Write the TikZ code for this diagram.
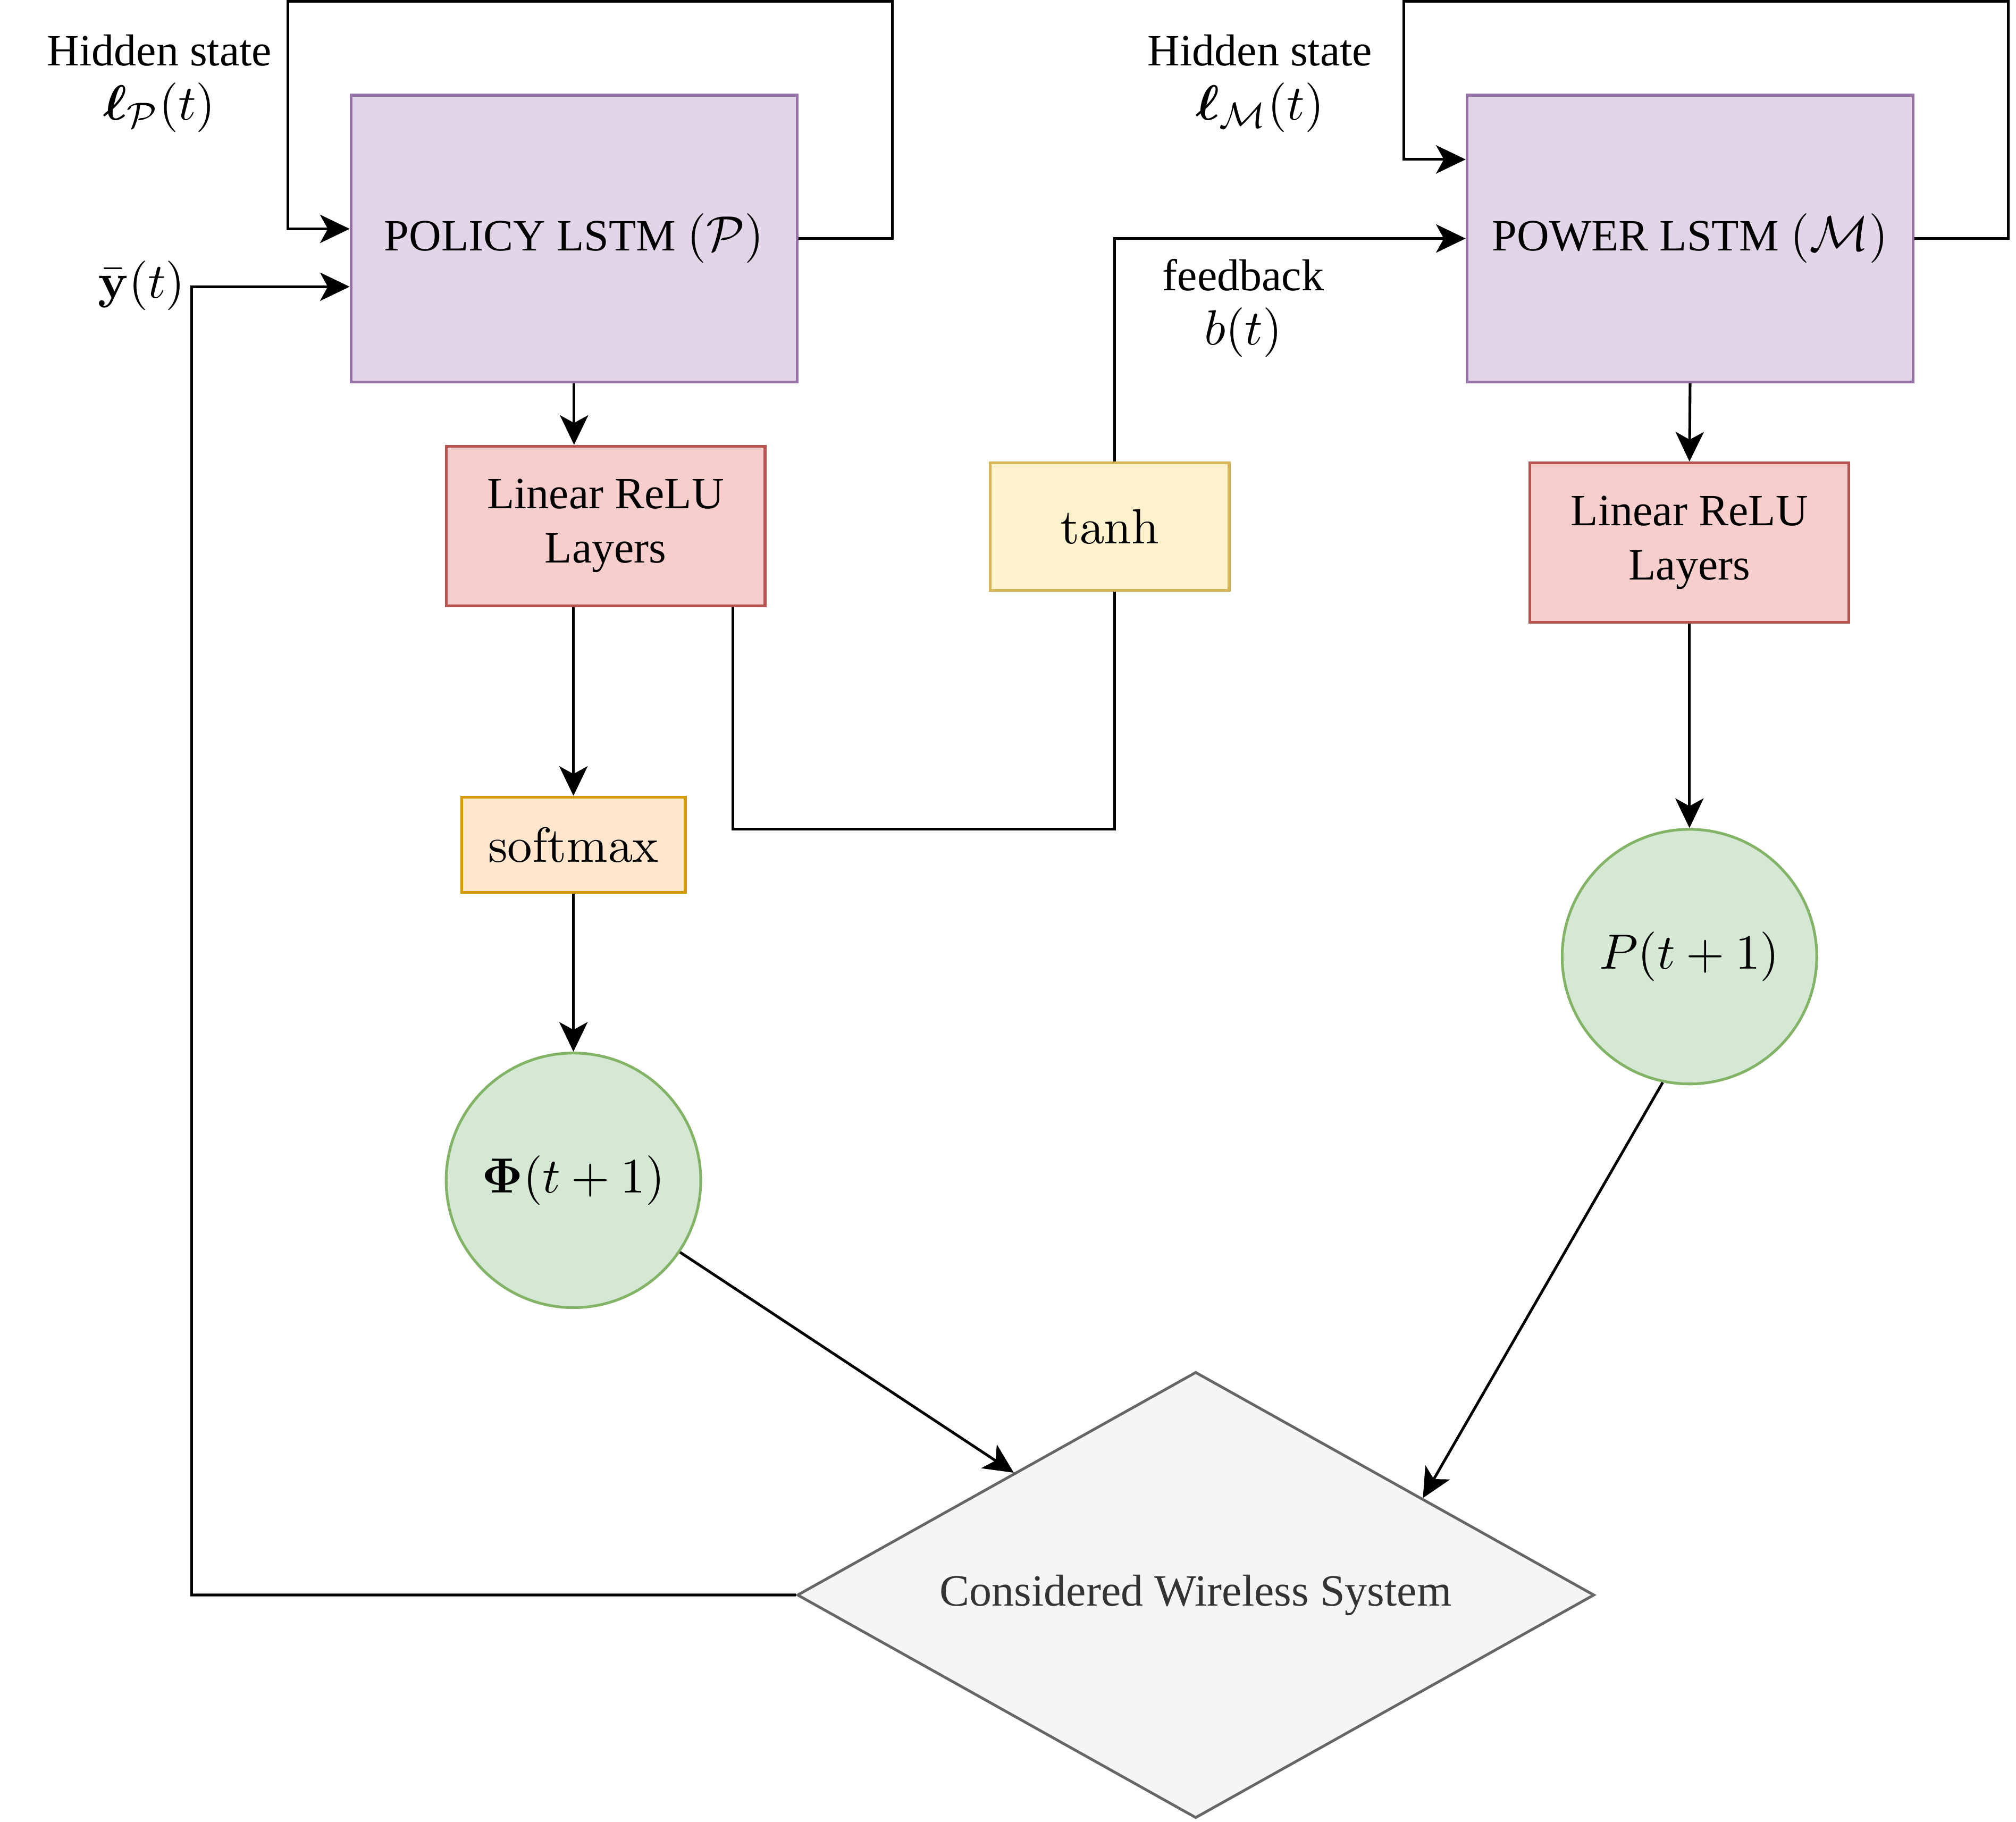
\documentclass[tikz,border=0pt]{standalone}
\usepackage{amsmath, amssymb, bm}
\usepackage[no-math]{fontspec}
\setmainfont{Liberation Serif}[Scale=0.875]
\usetikzlibrary{shapes.geometric, arrows.meta, positioning, calc}
\definecolor{lstmfill}{HTML}{E1D5E7}
\definecolor{lstmline}{HTML}{9673A6}
\definecolor{relufill}{HTML}{F8CECC}
\definecolor{reluline}{HTML}{B85450}
\definecolor{tanhfill}{HTML}{FFF2CC}
\definecolor{tanhline}{HTML}{D6B656}
\definecolor{softfill}{HTML}{FFE6CC}
\definecolor{softline}{HTML}{D79B00}
\definecolor{outfill}{HTML}{D5E8D4}
\definecolor{outline}{HTML}{82B366}
\definecolor{sysfill}{HTML}{F5F5F5}
\definecolor{sysline}{HTML}{666666}
\definecolor{systext}{HTML}{333333}

\begin{document}
\begin{tikzpicture}[
  line width=0.6pt,
  every node/.style={font=\fontsize{11.3}{12}\selectfont},
  arr/.style={-{Stealth[length=2.3mm, width=2.2mm, inset=0.6mm]}},
  lstmbox/.style={draw=lstmline, fill=lstmfill, minimum width=3.47cm, minimum height=2.23cm},
  relubox/.style={draw=reluline, fill=relufill, minimum width=2.48cm, minimum height=1.24cm, align=center},
  outcirc/.style={circle, draw=outline, fill=outfill, minimum size=1.98cm, inner sep=0pt}
]
  \useasboundingbox (0,0) rectangle (15.68,-14.17);

  % LSTM blocks
  \node[lstmbox] (policy) at (4.465,-1.855) {POLICY LSTM $(\mathcal{P})$};
  \node[lstmbox] (power) at (13.145,-1.855) {POWER LSTM $(\mathcal{M})$};

  % Layers
  \node[relubox] (reluL) at (4.71,-4.09) {Linear ReLU\\Layers};
  \node[relubox] (reluR) at (13.14,-4.22) {Linear ReLU\\Layers};
  \node[draw=tanhline, fill=tanhfill, minimum width=1.86cm, minimum height=0.99cm] (tanh) at (8.63,-4.095) {$\tanh$};
  \node[draw=softline, fill=softfill, minimum width=1.74cm, minimum height=0.74cm] (softmax) at (4.46,-6.57) {$\mathrm{softmax}$};

  % Outputs
  \node[outcirc] (phi) at (4.46,-9.18) {$\mathbf{\Phi}(t+1)$};
  \node[outcirc] (pnext) at (13.14,-7.44) {$P(t+1)$};
  \node[diamond, aspect=1.79, draw=sysline, fill=sysfill, text=systext, minimum width=6.2cm, minimum height=3.47cm, inner sep=0pt] (system) at (9.30,-12.405) {Considered Wireless System};

  % Labels
  \node[align=center] (hidP) at (1.24,-0.65) {Hidden state\\$\boldsymbol{\ell}_{\mathcal{P}}(t)$};
  \node[align=center] (hidM) at (9.80,-0.65) {Hidden state\\$\boldsymbol{\ell}_{\mathcal{M}}(t)$};
  \node[align=center] (fb) at (9.67,-2.395) {feedback\\$b(t)$};
  \node[anchor=east, inner sep=0pt] (ybar) at (1.45,-2.22) {$\bar{\mathbf{y}}(t)$};

  % Recurrent loops
  \coordinate (ptopR) at (6.94,-0.012);
  \coordinate (ptopL) at (2.24,-0.012);
  \draw[arr] (policy.east) -| (ptopR) -- (ptopL) |- ($(policy.west)+(0,0.075)$);
  \coordinate (mtopR) at (15.62,-0.012);
  \coordinate (mtopL) at (10.92,-0.012);
  \draw[arr] (power.east) -| (mtopR) -- (mtopL) |- ($(power.west)+(0,0.615)$);

  % Forward paths
  \draw[arr] (policy.south) -- (policy.south |- reluL.north);
  \draw[arr] (softmax.north |- reluL.south) -- (softmax.north);
  \draw[arr] (softmax.south) -- (phi.north);
  \draw[arr] (power.south) -- (reluR.north);
  \draw[arr] (reluR.south) -- (pnext.north);

  % Feedback to power LSTM
  \coordinate (fbturn) at (8.67,-6.45);
  \draw ($(reluL.south)+(0.99,0)$) |- (fbturn) -- (fbturn |- tanh.south);
  \draw[arr] (fbturn |- tanh.north) |- (power.west);

  % To and from the system
  \draw[arr] (phi.-34) -- ($(system.west)!0.545!(system.north)$);
  \draw[arr] (pnext.-102) -- ($(system.north)!0.568!(system.east)$);
  \coordinate (ybend) at (1.49,-2.23);
  \draw[arr] (system.west) -| (ybend) -- ($(policy.west)+(0,-0.375)$);
\end{tikzpicture}
\end{document}
